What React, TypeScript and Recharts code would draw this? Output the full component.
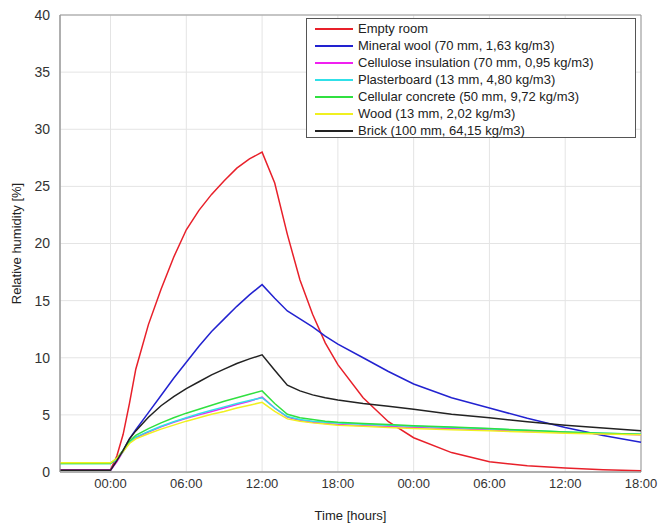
import {
  LineChart,
  Line,
  XAxis,
  YAxis,
  CartesianGrid,
  ReferenceArea,
} from "recharts";

// time in hours from the start of the test (00:00 = 0)
const hours = [
  -4, 0, 0.5, 1, 1.5, 2, 3, 4, 5, 6, 7, 8, 9, 10, 11, 12, 13, 14, 15, 16, 17,
  18, 20, 22, 24, 27, 30, 33, 36, 39, 42,
];

const emptyRoom = [
  0.2, 0.2, 1.4, 3.3, 6.0, 9.0, 12.9, 16.0, 18.8, 21.2, 22.9, 24.3, 25.5, 26.6,
  27.4, 28.0, 25.3, 20.8, 16.8, 13.8, 11.3, 9.4, 6.5, 4.4, 3.0, 1.7, 0.9, 0.55,
  0.35, 0.2, 0.1,
];
const mineralWool = [
  0.15, 0.15, 1.0, 1.9, 2.9, 3.7, 5.2, 6.7, 8.2, 9.6, 11.0, 12.3, 13.4, 14.5,
  15.5, 16.4, 15.2, 14.1, 13.4, 12.7, 11.9, 11.2, 10.0, 8.8, 7.7, 6.5, 5.6, 4.7,
  3.9, 3.2, 2.6,
];
const cellulose = [
  0.15, 0.15, 0.9, 1.8, 2.6, 3.0, 3.5, 3.95, 4.35, 4.7, 5.0, 5.3, 5.6, 5.9, 6.2,
  6.55, 5.6, 4.8, 4.5, 4.35, 4.25, 4.15, 4.05, 3.98, 3.9, 3.8, 3.68, 3.55, 3.45,
  3.35, 3.25,
];
const plasterboard = [
  0.75, 0.75, 1.1, 1.8, 2.6, 3.05, 3.55, 4.0, 4.4, 4.75, 5.1, 5.4, 5.7, 6.0,
  6.25, 6.5, 5.6, 4.85, 4.6, 4.45, 4.35, 4.28, 4.18, 4.1, 4.0, 3.9, 3.78, 3.63,
  3.5, 3.4, 3.3,
];
const cellularConcrete = [
  0.75, 0.75, 1.2, 1.9, 2.7, 3.2, 3.8, 4.3, 4.75, 5.15, 5.5, 5.85, 6.2, 6.5, 6.8,
  7.1, 6.0, 5.05, 4.75, 4.6, 4.45, 4.35, 4.25, 4.15, 4.05, 3.93, 3.8, 3.65, 3.5,
  3.4, 3.3,
];
const wood = [
  0.8, 0.8, 1.2, 1.8, 2.5, 2.9, 3.35, 3.75, 4.1, 4.45, 4.75, 5.05, 5.3, 5.6,
  5.85, 6.1, 5.3, 4.65, 4.45, 4.3, 4.2, 4.1, 4.0, 3.9, 3.8, 3.7, 3.6, 3.5, 3.4,
  3.32, 3.25,
];
const brick = [
  0.15, 0.15, 1.0, 1.9, 2.9, 3.6, 4.8, 5.8, 6.6, 7.3, 7.9, 8.5, 9.0, 9.5, 9.9,
  10.25, 8.9, 7.6, 7.1, 6.75, 6.5, 6.3, 6.0, 5.75, 5.5, 5.05, 4.75, 4.4, 4.1,
  3.85, 3.6,
];

const xTicks = [0, 6, 12, 18, 24, 30, 36, 42];
const yTicks = [0, 5, 10, 15, 20, 25, 30, 35, 40];

const series = [
  { key: "empty", name: "Empty room", values: emptyRoom, color: "#e8202a" },
  { key: "mineral", name: "Mineral wool (70 mm, 1,63 kg/m3)", values: mineralWool, color: "#2222d0" },
  { key: "cellulose", name: "Cellulose insulation (70 mm, 0,95 kg/m3)", values: cellulose, color: "#f020f0" },
  { key: "plaster", name: "Plasterboard (13 mm, 4,80 kg/m3)", values: plasterboard, color: "#30e0e8" },
  { key: "concrete", name: "Cellular concrete (50 mm, 9,72 kg/m3)", values: cellularConcrete, color: "#30e040" },
  { key: "wood", name: "Wood (13 mm, 2,02 kg/m3)", values: wood, color: "#f0f020" },
  { key: "brick", name: "Brick (100 mm, 64,15 kg/m3)", values: brick, color: "#222222" },
];

const data = hours.map((h, i) => {
  const row: Record<string, number> = { h };
  series.forEach((s) => {
    row[s.key] = s.values[i];
  });
  return row;
});

const fmtTime = (h: number) => {
  const hh = ((h % 24) + 24) % 24;
  return `${String(hh).padStart(2, "0")}:00`;
};

// legend drawn as an overlay box, like the MATLAB one
const LegendBox = () => (
  <div
    style={{
      position: "absolute",
      left: 306,
      top: 18,
      width: 330,
      height: 120,
      border: "1px solid #555",
      background: "#fff",
      padding: "1px 8px 0 8px",
      boxSizing: "border-box",
    }}
  >
    {series.map((s) => (
      <div
        key={s.key}
        style={{ display: "flex", alignItems: "center", height: 17 }}
      >
        <span
          style={{
            display: "inline-block",
            width: 38,
            height: 2,
            background: s.color,
            marginRight: 5,
          }}
        />
        <span style={{ fontSize: 13, color: "#222", whiteSpace: "nowrap" }}>
          {s.name}
        </span>
      </div>
    ))}
  </div>
);

export default function App() {
  return (
    <div
      style={{
        position: "absolute",
        left: 0,
        top: 0,
        width: 672,
        height: 523,
        background: "#fff",
        fontFamily: "'Liberation Sans', Arial, sans-serif",
      }}
    >
      <LineChart
        width={672}
        height={523}
        data={data}
        margin={{ top: 15, right: 31, bottom: 0, left: 0 }}
      >
        <CartesianGrid stroke="#e4e4e4" />
        <XAxis
          dataKey="h"
          type="number"
          domain={[-4, 42]}
          ticks={xTicks}
          tickFormatter={fmtTime}
          height={51}
          tickLine={false}
          tickMargin={1}
          stroke="#999"
          tick={{ fill: "#333", fontSize: 13 }}
          label={{
            value: "Time [hours]",
            position: "insideBottom",
            offset: 3,
            fill: "#222",
            fontSize: 13,
          }}
        />
        <YAxis
          type="number"
          domain={[0, 40]}
          ticks={yTicks}
          width={60}
          tickLine={false}
          tickMargin={4}
          stroke="#999"
          tick={{ fill: "#333", fontSize: 14 }}
          label={{
            value: "Relative humidity [%]",
            angle: -90,
            position: "insideLeft",
            offset: 16,
            style: { textAnchor: "middle" },
            fill: "#222",
            fontSize: 13,
          }}
        />
        <ReferenceArea
          x1={-4}
          x2={42}
          y1={0}
          y2={40}
          fill="none"
          stroke="#999"
          ifOverflow="visible"
        />
        {series.map((s) => (
          <Line
            key={s.key}
            dataKey={s.key}
            name={s.name}
            type="linear"
            stroke={s.color}
            strokeWidth={1.5}
            dot={false}
            isAnimationActive={false}
          />
        ))}
      </LineChart>
      <LegendBox />
    </div>
  );
}
